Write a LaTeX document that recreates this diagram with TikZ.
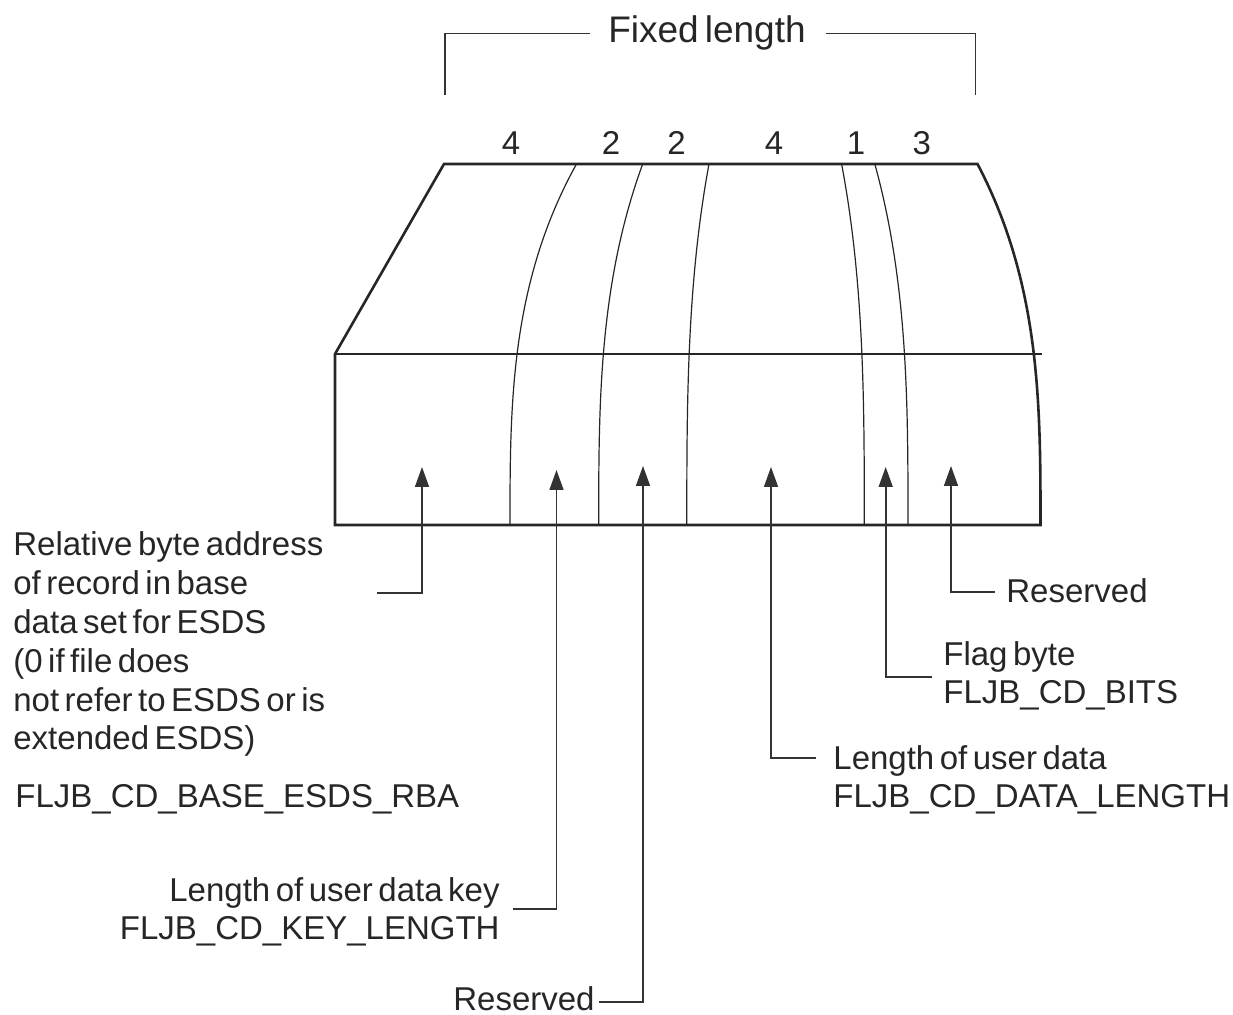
\documentclass[tikz,border=0pt]{standalone}
\usepackage{fontspec}
\setmainfont{Liberation Sans}[WordSpace=0.6]
\usetikzlibrary{arrows.meta,positioning}

\begin{document}
\begin{tikzpicture}[
  x=0.5pt, y=-0.5pt,
  lbl/.style={inner sep=0pt, text=black!85, font=\fontsize{16.5}{19.4}\selectfont, align=left},
  num/.style={lbl, anchor=base},
  outline/.style={draw=black!85, line width=1.3pt, line join=miter},
  divider/.style={draw=black!85, line width=0.6pt},
  lead/.style={draw=black!80, line width=0.8pt},
  flow/.style={lead, -{Triangle[length=10pt,width=7pt]}}
]
\useasboundingbox (0,0) rectangle (1233,1015);

\draw[outline] (335,525) -- (335,354) -- (444,164) -- (977.5,164)
  .. controls (1040.5,284) and (1040.5,405) .. (1040.5,525) -- cycle;
\draw[divider] (335,354) -- (1042,354);
\foreach \xt/\xb in {576.5/510,642.7/598.7,709/686.8,841.6/864.3,874.8/908}
  \draw[divider] (\xt,164) .. controls (\xb,284) and (\xb,405) .. (\xb,525);

\foreach \w/\xc [count=\i] in {4/511,2/611,2/676.5,4/774,1/856,3/921.7}
  \node[num] (n\i) at (\xc,155) {\w};

\node[lbl, font=\fontsize{18.5}{22}\selectfont, anchor=base] (fixlbl) at (707,43) {Fixed length};
\coordinate (fixL) at (445,95);
\coordinate (fixR) at (975.5,95);
\draw[lead] (fixL) |- ([xshift=-9pt]fixlbl.west);
\draw[lead] (fixR) |- ([xshift=10pt]fixlbl.east);

\node[lbl, anchor=base west] (rbalbl) at (13,750) {Relative byte address\\of record in base\\data set for ESDS\\(0 if file does\\not refer to ESDS or is\\extended ESDS)};
\node[lbl, anchor=base west] (rbaname) at (15,808) {FLJB\_CD\_BASE\_ESDS\_RBA};
\node[lbl, anchor=base east, align=right] (keylbl) at (500,940) {Length of user data key\\FLJB\_CD\_KEY\_LENGTH};
\node[lbl, anchor=base east] (res1lbl) at (595,1011) {Reserved};
\node[lbl, anchor=base west] (datalbl) at (833,808) {Length of user data\\FLJB\_CD\_DATA\_LENGTH};
\node[lbl, anchor=base west] (flaglbl) at (943,704) {Flag byte\\FLJB\_CD\_BITS};
\node[lbl, anchor=base west] (res2lbl) at (1006,603) {Reserved};

\coordinate (rbatip) at (422,467);
\coordinate (rbaend) at (377,593);
\coordinate (keytip) at (556.5,470);
\coordinate (keyend) at (513,909);
\coordinate (res1tip) at (643,466);
\coordinate (res1end) at (599,1002);
\coordinate (datatip) at (771,467);
\coordinate (dataend) at (816,758);
\coordinate (flagtip) at (885.7,467);
\coordinate (flagend) at (932,677);
\coordinate (res2tip) at (951,466);
\coordinate (res2end) at (995,592);

\draw[flow] (rbaend) -| (rbatip);
\draw[flow] (keyend) -| (keytip);
\draw[flow] (res1end) -| (res1tip);
\draw[flow] (dataend) -| (datatip);
\draw[flow] (flagend) -| (flagtip);
\draw[flow] (res2end) -| (res2tip);
\end{tikzpicture}
\end{document}
